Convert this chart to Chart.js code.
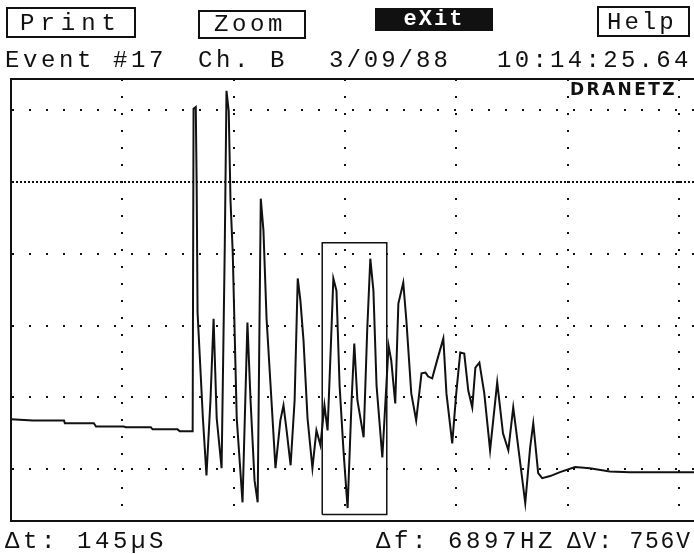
<!DOCTYPE html>
<html>
<head>
<meta charset="utf-8">
<script src="https://cdn.jsdelivr.net/npm/chart.js@4.4.1/dist/chart.umd.min.js"></script>
<style>
	body { margin: 0; background: #fff; width: 694px; height: 554px; overflow: hidden; position: relative; color: #111; font-family: 'Liberation Mono', 'DejaVu Sans Mono', monospace; }
	#chart { position: absolute; left: 0; top: 0; }
	.t { position: absolute; font-size: 24px; line-height: 1; letter-spacing: 3.6px; white-space: pre; }
	.btn { position: absolute; box-sizing: border-box; border: 2px solid #111; }
	#exit { position: absolute; left: 375px; top: 8px; width: 118px; height: 23px; background: #111; color: #fff; font-weight: bold; font-size: 22px; line-height: 23px; letter-spacing: 2px; text-align: center; }
	#brand { position: absolute; left: 570px; top: 81px; font-family: 'DejaVu Sans', sans-serif; font-weight: bold; font-size: 17px; line-height: 1; letter-spacing: 2.4px; }
</style>
</head>
<body>
<canvas id="chart" width="694" height="554"></canvas>

<div class="btn" style="left:6px;top:7px;width:130px;height:31px"></div>
<div class="t" style="left:20px;top:12px;letter-spacing:6px">Print</div>
<div class="btn" style="left:198px;top:10px;width:108px;height:29px"></div>
<div class="t" style="left:214px;top:13px">Zoom</div>
<div id="exit">eXit</div>
<div class="btn" style="left:597px;top:6px;width:93px;height:31px"></div>
<div class="t" style="left:607px;top:11px;letter-spacing:3px">Help</div>

<div class="t" style="left:5px;top:49px">Event #17</div>
<div class="t" style="left:198px;top:49px">Ch. B</div>
<div class="t" style="left:329px;top:49px;letter-spacing:3px">3/09/88</div>
<div class="t" style="left:497px;top:49px;letter-spacing:3.3px">10:14:25.64</div>

<div id="brand">DRANETZ</div>

<div class="t" style="left:5px;top:530px">Δt: 145µS</div>
<div class="t" style="left:376px;top:530px">Δf: 6897HZ</div>
<div class="t" style="left:567px;top:531px;font-size:23px;letter-spacing:1.8px">ΔV: 756V</div>

<script>
// time axis in microseconds (250 us / division), amplitude in volts (200 V / division)
const timeUs = [
	0, 49, 119, 121, 186, 191, 253, 258, 314, 318, 374, 379, 406,
	408, 410, 415, 417, 419, 431, 439, 448, 455, 462, 473, 480, 484, 489, 493, 498,
	507, 520, 531, 538, 547, 554, 561, 567, 574, 583, 594, 605, 612, 619, 628, 637,
	644, 650, 657, 666, 677, 686, 695, 704, 711, 718, 724, 731, 738, 747, 756, 765,
	771, 778, 792, 800, 807, 814, 821, 834, 848, 854, 863, 870, 881, 888, 899, 910,
	922, 931, 937, 946, 957, 971, 978, 991, 1000, 1009, 1018, 1027, 1036, 1043, 1052,
	1063, 1076, 1092, 1105, 1117, 1128, 1141, 1155, 1166, 1173, 1184, 1193, 1211,
	1233, 1267, 1300, 1345, 1390, 1534
];
const voltsV = [
	-261, -264, -264, -272, -272, -281, -281, -283, -283, -289, -289, -294, -294,
	-294, 603, 608, 389, 36, -258, -417, -208, 19, -258, -397, 208, 653, 597, 347, 203,
	-258, -492, 8, -208, -431, -492, 353, 264, 19, -167, -397, -264, -222, -292, -389, -208,
	131, 69, -42, -258, -397, -292, -333, -222, -292, -69, 131, 97, -167, -353, -508, -208,
	-50, -208, -311, -14, 186, 97, -167, -367, -56, -97, -217, 61, 119, 14, -189, -264,
	-133, -131, -142, -147, -97, -36, -189, -328, -189, -75, -78, -181, -228, -117, -103,
	-189, -347, -158, -300, -347, -228, -356, -494, -339, -272, -411, -425, -419,
	-408, -394, -397, -406, -408, -408
];

// cursor box: 145 us wide, 756 V tall
const cursorT = [699, 699, 844, 844, 699];
const cursorV = [-526, 230, 230, -526, -526];

const xGridUs = [250, 500, 750, 1000, 1250, 1500];
const yGridV = [-400, -200, 0, 200, 400, 600];
const triggerLevelV = 400;

const toPoints = (xs, ys) => xs.map((x, i) => ({ x, y: ys[i] }));

new Chart(document.getElementById('chart'), {
	type: 'line',
	data: {
		datasets: [
			{ label: 'Ch. B', data: toPoints(timeUs, voltsV), borderColor: '#111', borderWidth: 2, pointRadius: 0, tension: 0 },
			{ label: 'cursor', data: toPoints(cursorT, cursorV), borderColor: '#111', borderWidth: 1.5, pointRadius: 0, tension: 0 },
		],
	},
	options: {
		responsive: false,
		animation: false,
		devicePixelRatio: 1,
		layout: { padding: { left: 11, top: 79, right: 0, bottom: 33 } },
		plugins: { legend: { display: false }, tooltip: { enabled: false } },
		scales: {
			x: {
				type: 'linear', min: 0, max: 1534,
				afterBuildTicks: (axis) => { axis.ticks = xGridUs.map((v) => ({ value: v })); },
				ticks: { display: false },
				grid: { color: '#111', lineWidth: 2, drawTicks: false },
				border: { display: true, color: '#111', width: 2, dash: [2, 15] },
			},
			xTop: {
				type: 'linear', position: 'top', min: 0, max: 1534,
				ticks: { display: false },
				grid: { display: false, drawTicks: false },
				border: { display: true, color: '#111', width: 2 },
			},
			y: {
				type: 'linear', min: -544, max: 686,
				afterBuildTicks: (axis) => { axis.ticks = yGridV.map((v) => ({ value: v })); },
				ticks: { display: false },
				grid: { color: '#111', lineWidth: 2, drawTicks: false },
				border: {
					display: true, color: '#111', width: 2,
					dash: (ctx) => (ctx.tick && ctx.tick.value === triggerLevelV ? [2, 2] : [2, 15]),
				},
			},
		},
	},
});
</script>
</body>
</html>
